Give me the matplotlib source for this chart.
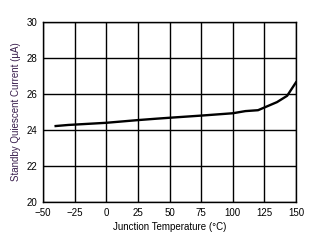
import matplotlib
matplotlib.use("Agg")
import matplotlib.pyplot as plt

# junction temperature (C) vs standby quiescent current (uA)
temp = [-40, -30, -10, 0, 10, 25, 40, 50, 75, 100, 110, 120, 125, 135, 143, 150]
current = [24.22, 24.28, 24.36, 24.4, 24.46, 24.55, 24.63, 24.68, 24.8, 24.93,
           25.05, 25.1, 25.25, 25.55, 25.9, 26.65]

x_ticks = [-50, -25, 0, 25, 50, 75, 100, 125, 150]
y_ticks = [20, 22, 24, 26, 28, 30]

plt.rcParams['font.family'] = ['Liberation Sans', 'DejaVu Sans']

fig = plt.figure(figsize=(3.18, 2.43), dpi=100)
ax = fig.add_axes([43 / 318, 41 / 243, 253 / 318, 180 / 243])

ax.plot(temp, current, color='black', linewidth=1.7)

ax.set_xlim(-50, 150)
ax.set_ylim(20, 30)
ax.set_xticks(x_ticks)
ax.set_yticks(y_ticks)
ax.tick_params(labelsize=7, length=0, pad=4)
ax.grid(True, color='black', linewidth=1.0)
for s in ax.spines.values():
    s.set_linewidth(1.0)

ax.set_xlabel('Junction Temperature (\u00b0C)', fontsize=7, labelpad=3)
ax.set_ylabel('Standby Quiescent Current (\u00b5A)', fontsize=7,
              color='#3a1f4d', labelpad=4)

fig.savefig('out.png', dpi=100)
